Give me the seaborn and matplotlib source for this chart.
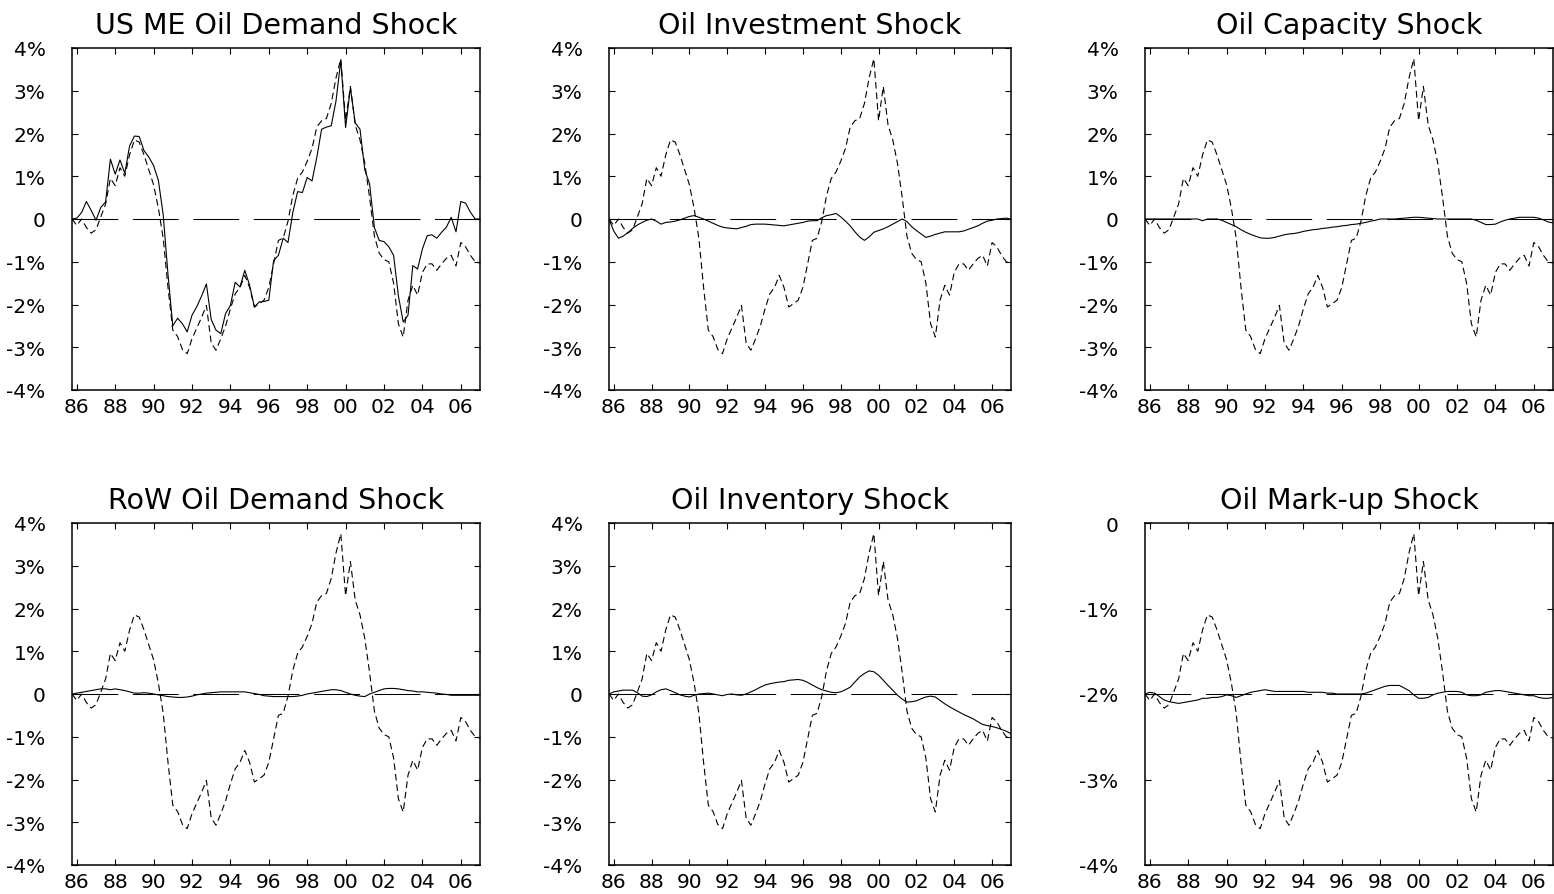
import numpy as np
import pandas as pd
import matplotlib
matplotlib.use("Agg")
import matplotlib.pyplot as plt
import seaborn as sns

# Quarterly sample, 1985Q4 - 2007Q1
quarters = pd.period_range("1985Q4", "2007Q1", freq="Q")
years = quarters.year + (quarters.quarter - 1) / 4.0

# Actual (historical) series, shown dashed in every panel (percent)
actual = [
    0.00, -0.15, 0.00, -0.20, -0.33, -0.25, 0.05, 0.35, 0.95, 0.78,
    1.20, 1.00, 1.50, 1.85, 1.80, 1.50, 1.15, 0.80, 0.25, -0.45,
    -1.60, -2.60, -2.75, -3.05, -3.15, -2.80, -2.55, -2.30, -2.02, -2.90,
    -3.07, -2.80, -2.50, -2.10, -1.75, -1.60, -1.32, -1.60, -2.06, -1.98,
    -1.90, -1.60, -1.05, -0.50, -0.45, -0.05, 0.55, 0.95, 1.10, 1.35,
    1.65, 2.15, 2.30, 2.35, 2.70, 3.30, 3.75, 2.30, 3.10, 2.20,
    1.85, 1.30, 0.50, -0.40, -0.80, -0.95, -1.00, -1.50, -2.45, -2.76,
    -1.90, -1.55, -1.78, -1.25, -1.05, -1.05, -1.20, -1.05, -0.92, -0.85,
    -1.10, -0.55, -0.65, -0.85, -1.00, -1.03,
]

# Contribution of each shock (solid lines, percent)
us_me_demand = [
    0.00, 0.02, 0.15, 0.41, 0.20, -0.03, 0.27, 0.40, 1.40, 1.05,
    1.38, 1.07, 1.71, 1.94, 1.93, 1.60, 1.45, 1.25, 0.90, 0.10,
    -1.30, -2.50, -2.32, -2.45, -2.64, -2.25, -2.05, -1.80, -1.52, -2.35,
    -2.60, -2.68, -2.21, -2.02, -1.48, -1.59, -1.20, -1.55, -2.06, -1.94,
    -1.93, -1.90, -0.97, -0.85, -0.45, -0.55, 0.15, 0.64, 0.62, 0.97,
    0.89, 1.44, 2.10, 2.15, 2.18, 2.76, 3.71, 2.14, 3.07, 2.25,
    2.10, 1.15, 0.82, -0.20, -0.50, -0.53, -0.65, -0.85, -1.80, -2.41,
    -2.25, -1.09, -1.17, -0.70, -0.39, -0.37, -0.45, -0.31, -0.19, 0.04,
    -0.30, 0.41, 0.37, 0.16, 0.00, 0.00,
]
investment = [
    0.00, -0.28, -0.45, -0.40, -0.32, -0.22, -0.14, -0.08, -0.03, 0.00,
    -0.05, -0.12, -0.08, -0.07, -0.05, -0.02, 0.02, 0.06, 0.08, 0.04,
    0.00, -0.05, -0.10, -0.15, -0.19, -0.21, -0.22, -0.23, -0.20, -0.17,
    -0.13, -0.12, -0.12, -0.12, -0.13, -0.14, -0.15, -0.16, -0.14, -0.12,
    -0.10, -0.08, -0.05, -0.04, -0.04, 0.03, 0.08, 0.10, 0.13, 0.05,
    -0.05, -0.16, -0.30, -0.42, -0.50, -0.42, -0.31, -0.27, -0.23, -0.18,
    -0.12, -0.06, 0.00, -0.06, -0.18, -0.27, -0.35, -0.43, -0.40, -0.36,
    -0.33, -0.30, -0.30, -0.30, -0.30, -0.28, -0.24, -0.20, -0.16, -0.10,
    -0.05, -0.03, 0.00, 0.01, 0.02, 0.00,
]
capacity = [
    0.00, 0.00, 0.00, 0.00, 0.00, 0.00, 0.00, 0.00, 0.00, 0.00,
    0.00, 0.00, -0.04, 0.00, 0.00, 0.00, -0.03, -0.08, -0.13, -0.18,
    -0.25, -0.31, -0.36, -0.40, -0.44, -0.45, -0.45, -0.43, -0.40, -0.37,
    -0.35, -0.34, -0.32, -0.29, -0.27, -0.25, -0.24, -0.22, -0.21, -0.19,
    -0.18, -0.16, -0.15, -0.13, -0.12, -0.10, -0.08, -0.05, -0.03, 0.00,
    0.00, 0.00, 0.00, 0.01, 0.02, 0.03, 0.04, 0.04, 0.03, 0.02,
    0.01, 0.00, 0.00, 0.00, 0.00, 0.00, 0.00, 0.00, 0.00, -0.03,
    -0.08, -0.13, -0.13, -0.12, -0.07, -0.03, 0.00, 0.02, 0.04, 0.04,
    0.04, 0.04, 0.02, -0.02, -0.07, -0.09,
]
row_demand = [
    0.00, 0.02, 0.04, 0.06, 0.08, 0.10, 0.12, 0.12, 0.10, 0.12,
    0.10, 0.08, 0.05, 0.02, 0.02, 0.03, 0.02, 0.00, -0.02, -0.04,
    -0.06, -0.07, -0.08, -0.08, -0.07, -0.05, -0.02, 0.00, 0.02, 0.03,
    0.04, 0.05, 0.05, 0.05, 0.05, 0.05, 0.05, 0.03, 0.01, -0.01,
    -0.04, -0.05, -0.06, -0.06, -0.06, -0.06, -0.06, -0.05, -0.03, 0.00,
    0.02, 0.04, 0.06, 0.08, 0.10, 0.10, 0.08, 0.04, 0.00, -0.03,
    -0.05, -0.06, 0.00, 0.04, 0.08, 0.12, 0.13, 0.13, 0.12, 0.10,
    0.08, 0.07, 0.05, 0.05, 0.04, 0.03, 0.02, 0.00, -0.01, -0.03,
    -0.03, -0.03, -0.03, -0.03, -0.03, -0.03,
]
inventory = [
    0.00, 0.05, 0.07, 0.09, 0.09, 0.09, 0.03, -0.05, -0.06, -0.02,
    0.05, 0.10, 0.12, 0.08, 0.03, -0.02, -0.05, -0.07, -0.03, 0.00,
    0.01, 0.02, 0.00, -0.02, -0.04, -0.01, 0.00, -0.02, -0.03, 0.00,
    0.05, 0.10, 0.16, 0.21, 0.24, 0.26, 0.28, 0.29, 0.32, 0.33,
    0.34, 0.32, 0.27, 0.21, 0.15, 0.10, 0.07, 0.04, 0.03, 0.05,
    0.10, 0.16, 0.28, 0.40, 0.48, 0.54, 0.52, 0.44, 0.32, 0.20,
    0.09, -0.03, -0.12, -0.19, -0.18, -0.16, -0.11, -0.07, -0.05, -0.07,
    -0.15, -0.23, -0.30, -0.36, -0.42, -0.48, -0.53, -0.58, -0.65, -0.71,
    -0.74, -0.76, -0.79, -0.83, -0.87, -0.93,
]
# Mark-up panel uses its own half-scale axis, centred on -2%
markup = [
    -2.00, -1.98, -1.99, -2.03, -2.07, -2.09, -2.10, -2.11, -2.10, -2.09,
    -2.08, -2.07, -2.05, -2.05, -2.04, -2.04, -2.03, -2.01, -2.02, -2.04,
    -2.02, -2.00, -1.98, -1.97, -1.96, -1.95, -1.96, -1.97, -1.97, -1.97,
    -1.97, -1.97, -1.97, -1.97, -1.98, -1.98, -1.98, -1.98, -1.99, -1.99,
    -2.00, -2.00, -2.00, -2.00, -2.00, -2.00, -1.99, -1.97, -1.95, -1.93,
    -1.91, -1.90, -1.90, -1.90, -1.93, -1.96, -2.01, -2.05, -2.05, -2.04,
    -2.01, -1.99, -1.98, -1.97, -1.97, -1.97, -1.98, -2.01, -2.02, -2.02,
    -2.01, -1.98, -1.97, -1.96, -1.96, -1.97, -1.98, -1.99, -2.00, -2.01,
    -2.02, -2.02, -2.04, -2.05, -2.05, -2.04,
]
markup_centre = -2.0
markup_actual = np.asarray(actual) / 2.0 + markup_centre

titles = [
    "US ME Oil Demand Shock", "Oil Investment Shock", "Oil Capacity Shock",
    "RoW Oil Demand Shock", "Oil Inventory Shock", "Oil Mark-up Shock",
]
contributions = [us_me_demand, investment, capacity, row_demand, inventory, markup]
dashed_series = [actual] * 5 + [markup_actual]
reference_levels = [0, 0, 0, 0, 0, markup_centre]
y_limits = [(-4, 4)] * 5 + [(-4, 0)]

year_ticks = list(range(1986, 2007, 2))
year_labels = [f"{y % 100:02d}" for y in year_ticks]


def pct_label(v):
    return "0" if v == 0 else f"{int(v)}%"


sns.set_theme(style="ticks")
plt.rcParams["font.family"] = ["DejaVu Sans"]
plt.rcParams["text.color"] = "black"

W, H = 1554, 895
fig = plt.figure(figsize=(W / 100, H / 100), dpi=100)

# panel frames in pixels (left, right) and (top, bottom)
col_px = [(72, 480), (609, 1011), (1145, 1553)]
row_px = [(49, 391), (524, 866)]

for k, title in enumerate(titles):
    r, c = divmod(k, 3)
    x0, x1 = col_px[c]
    y0, y1 = row_px[r]
    ax = fig.add_axes([x0 / W, 1 - y1 / H, (x1 - x0) / W, (y1 - y0) / H])

    df = pd.DataFrame({"year": years, "actual": dashed_series[k],
                       "shock": contributions[k]})
    ax.axhline(reference_levels[k], color="black", lw=0.75,
               dashes=(44, 14), zorder=1)
    sns.lineplot(data=df, x="year", y="actual", ax=ax, color="black",
                 lw=0.8, zorder=2)
    ax.lines[-1].set_dashes((6, 3.5))
    sns.lineplot(data=df, x="year", y="shock", ax=ax, color="black",
                 lw=0.8, zorder=3)

    ax.set_xlim(years[0], years[-1])
    ax.set_ylim(*y_limits[k])
    yt = np.arange(y_limits[k][0], y_limits[k][1] + 1)
    ax.set_yticks(yt)
    ax.set_yticklabels([pct_label(v) for v in yt])
    ax.set_xticks(year_ticks)
    ax.set_xticklabels(year_labels)
    ax.set_xlabel("")
    ax.set_ylabel("")

    ax.tick_params(axis="both", direction="in", length=4, width=0.8,
                   top=True, right=True, labelsize=14.5, colors="black")
    ax.tick_params(axis="x", pad=5)
    ax.tick_params(axis="y", pad=19)
    for sp in ax.spines.values():
        sp.set_visible(True)
        sp.set_linewidth(1.1)
        sp.set_color("black")
    ax.set_title(title, fontsize=20.5, pad=11, color="black")

fig.savefig("out.png", dpi=100)
